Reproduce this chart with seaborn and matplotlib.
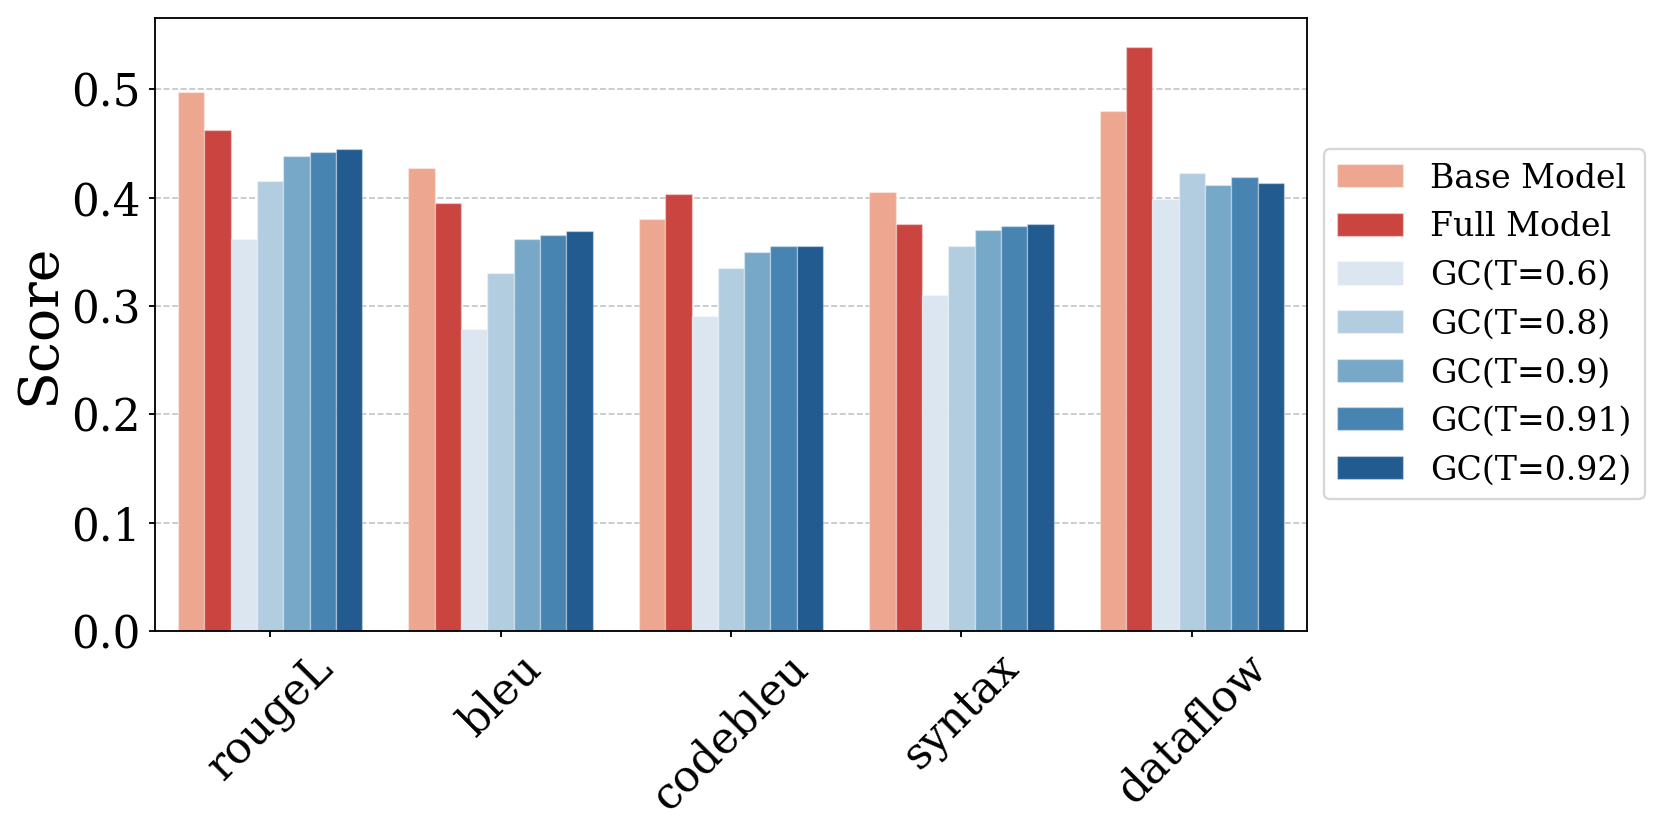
import matplotlib
matplotlib.use("Agg")
import matplotlib.pyplot as plt
import seaborn as sns
import pandas as pd

metrics = ["rougeL", "bleu", "codebleu", "syntax", "dataflow"]
models = ["Base Model", "Full Model", "GC(T=0.6)", "GC(T=0.8)", "GC(T=0.9)", "GC(T=0.91)", "GC(T=0.92)"]

base_model = [0.4975, 0.4278, 0.3801, 0.4050, 0.4803]
full_model = [0.4628, 0.3951, 0.4038, 0.3761, 0.5394]
gc_060 = [0.3616, 0.2786, 0.2906, 0.3097, 0.3992]
gc_080 = [0.4154, 0.3303, 0.3355, 0.3558, 0.4232]
gc_090 = [0.4388, 0.3623, 0.3503, 0.3702, 0.4114]
gc_091 = [0.4419, 0.3659, 0.3555, 0.3739, 0.4195]
gc_092 = [0.4453, 0.3696, 0.3555, 0.3758, 0.4136]

colors = ["#eda68f", "#cb4540", "#dbe6f1", "#b3cde0", "#77a8c8", "#4884b1", "#215b8f"]

series = [base_model, full_model, gc_060, gc_080, gc_090, gc_091, gc_092]
rows = []
for m, vals in zip(models, series):
    for metric, v in zip(metrics, vals):
        rows.append({"Metric": metric, "Model": m, "Score": v})
df = pd.DataFrame(rows)

plt.rcParams["font.family"] = "DejaVu Serif"

fig = plt.figure(figsize=(10, 5), dpi=166.1)
ax = fig.add_axes([155/1661, 1 - 631/830, (1307 - 155)/1661, (631 - 18)/830])

sns.barplot(data=df, x="Metric", y="Score", hue="Model", order=metrics,
            hue_order=models, palette=colors, saturation=1,
            edgecolor=(1, 1, 1, 0.35), linewidth=0.6, ax=ax)

ax.set_axisbelow(True)
ax.yaxis.grid(True, linestyle="--", color="#bbbbbb", linewidth=0.7, alpha=0.9)
ax.xaxis.grid(False)
ax.set_xlabel("")
ax.set_ylabel("Score", fontsize=24, labelpad=2.5)
ax.tick_params(axis="both", labelsize=19, length=2.6, pad=3.5)
plt.setp(ax.get_xticklabels(), rotation=45, ha="center")
ax.set_yticks([0.0, 0.1, 0.2, 0.3, 0.4, 0.5])
ax.set_yticklabels(["0.0", "0.1", "0.2", "0.3", "0.4", "0.5"])
for s in ax.spines.values():
    s.set_visible(True)
    s.set_color("black")
    s.set_linewidth(0.8)

ax.legend(loc="center left", bbox_to_anchor=(1.0, 0.5), fontsize=14.4, frameon=True)

fig.savefig("out.png", dpi=166.1)
